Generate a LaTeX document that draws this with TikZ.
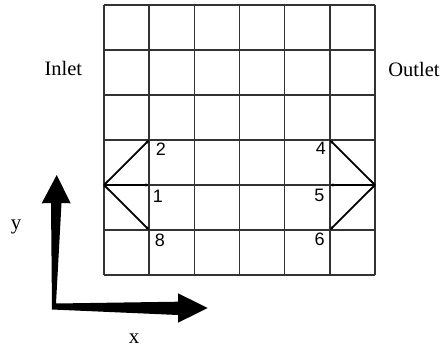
\documentclass[tikz,border=0pt]{standalone}
\usepackage{fontspec}
\setmainfont{Liberation Serif}
\newfontfamily\numfont{Liberation Sans}
\usetikzlibrary{arrows.meta}
\begin{document}
\begin{tikzpicture}[x=1pt,y=-1pt,
  gridline/.style={line width=1.4pt, draw=black!80},
  vec/.style={line width=1.8pt, draw=black, -{Latex[length=3.5pt,width=3.5pt]}},
  numlbl/.style={font=\numfont\fontsize{18}{18}\selectfont, inner sep=0pt},
  sidelbl/.style={font=\fontsize{20.5}{20.5}\selectfont, inner sep=0pt},
  axlbl/.style={font=\fontsize{21}{21}\selectfont, inner sep=0pt},
  axisarrow/.style={fill=black, draw=none}]
\useasboundingbox (0,0) rectangle (445,348);
% grid
\foreach \i in {0,...,6} {
  \draw[gridline] ({104+\i*45.17},5) -- ({104+\i*45.17},275);
  \draw[gridline] (104,{5+\i*45}) -- (375,{5+\i*45});
}
% inlet vectors
\coordinate (L0) at (104,185);
\coordinate (L2) at (149.2,140);
\coordinate (L1) at (149.2,185);
\coordinate (L8) at (149.2,230);
\draw[vec] (L0) -- (L2);
\draw[vec] (L0) -- (L1);
\draw[vec] (L0) -- (L8);
% outlet vectors
\coordinate (R0) at (375,185);
\coordinate (R4) at (329.8,140);
\coordinate (R5) at (329.8,185);
\coordinate (R6) at (329.8,230);
\draw[vec] (R0) -- (R4);
\draw[vec] (R0) -- (R5);
\draw[vec] (R0) -- (R6);
% number labels
\node[numlbl] (n2) at (160.8,149) {2};
\node[numlbl] (n1) at (158,196) {1};
\node[numlbl] (n8) at (160,240) {8};
\node[numlbl] (n4) at (321,148) {4};
\node[numlbl] (n5) at (319.5,195.5) {5};
\node[numlbl] (n6) at (319.7,239.7) {6};
% side labels
\node[sidelbl, anchor=base] (inlet) at (63.3,75.7) {Inlet};
\node[sidelbl, anchor=base] (outlet) at (414,76) {Outlet};
% axes
\fill[axisarrow] (51,203) -- (41.7,203.3) -- (56.7,175) -- (70.7,203.3) -- (61.5,203)
  -- (56,303.5) -- (178,301.7) -- (178,293.3) -- (207.7,308) -- (178,322.7)
  -- (178,315) -- (52,309.5) -- cycle;
\node[axlbl, anchor=base] (ylbl) at (16,229) {y};
\node[axlbl, anchor=base] (xlbl) at (134,343) {x};
\end{tikzpicture}
\end{document}
